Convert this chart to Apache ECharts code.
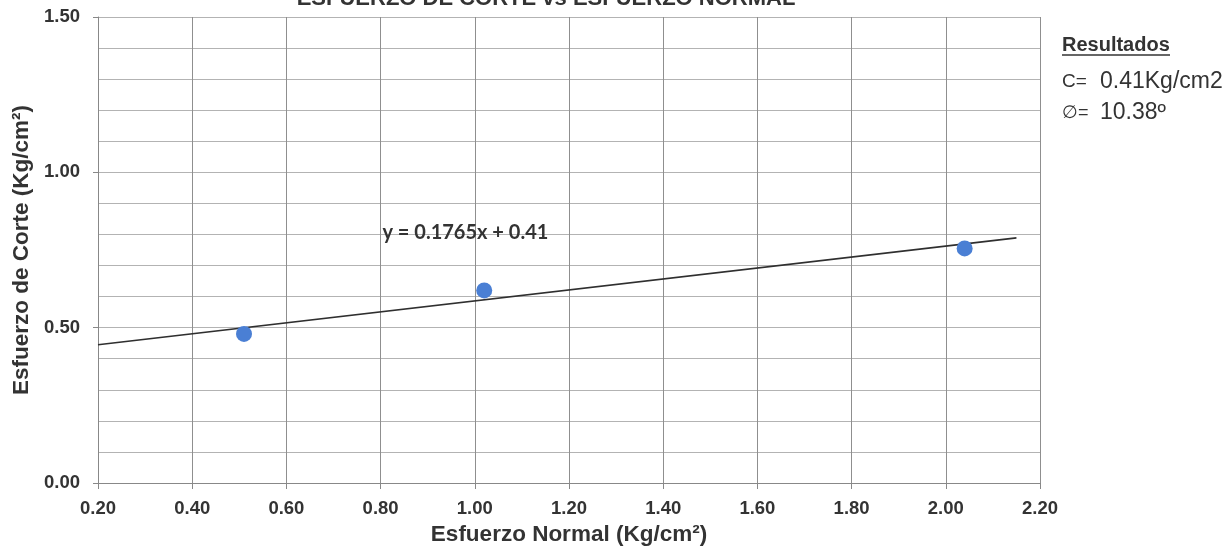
<!DOCTYPE html>
<html>
<head>
<meta charset="utf-8">
<script src="https://cdn.jsdelivr.net/npm/echarts@6/dist/echarts.min.js"></script>
<style>
html,body{margin:0;padding:0;background:#fff;}
#c{width:1231px;height:554px;}
</style>
</head>
<body>
<div id="c"></div>
<script>
const normalStress = [0.51, 1.02, 2.04];
const shearStress = [0.48, 0.62, 0.755];
const trendX = [0.2, 2.15];
const trendY = [0.445, 0.789];
const titleText = 'ESFUERZO DE CORTE vs ESFUERZO NORMAL';
const xName = 'Esfuerzo Normal (Kg/cm²)';
const yName = 'Esfuerzo de Corte (Kg/cm²)';
const equationText = 'y = 0.1765x + 0.41';
const equationAt = [0.98, 0.805];
const resultsHeader = 'Resultados';
const resultC = ['C=', '0.41Kg/cm2'];
const resultPhi = ['∅=', '10.38º'];

const chart = echarts.init(document.getElementById('c'));
const FONT = 'Liberation Sans, Arial, sans-serif';
const TXT = '#333';

chart.setOption({
  animation: false,
  backgroundColor: '#fff',
  grid: {left: 98, right: 191, top: 17, bottom: 71},
  xAxis: {
    type: 'value', min: 0.2, max: 2.2, interval: 0.2,
    name: xName, nameLocation: 'middle', nameGap: 33,
    nameTextStyle: {fontFamily: FONT, fontWeight: 'bold', fontSize: 22.5, color: TXT},
    axisLine: {show: true, lineStyle: {color: '#888', width: 1}},
    axisTick: {show: true, length: 6, lineStyle: {color: '#888'}},
    axisLabel: {fontFamily: FONT, fontWeight: 'bold', fontSize: 18.5, color: TXT, margin: 16,
      formatter: v => v.toFixed(2)},
    splitLine: {show: true, lineStyle: {color: '#8f8f8f', width: 1}}
  },
  yAxis: {
    type: 'value', min: 0, max: 1.5, interval: 0.5,
    name: yName, nameLocation: 'middle', nameGap: 65, nameRotate: 90,
    nameTextStyle: {fontFamily: FONT, fontWeight: 'bold', fontSize: 22.5, color: TXT},
    axisLine: {show: true, lineStyle: {color: '#888', width: 1}},
    axisTick: {show: true, length: 5, lineStyle: {color: '#888'}},
    minorTick: {show: false, splitNumber: 5},
    axisLabel: {fontFamily: FONT, fontWeight: 'bold', fontSize: 18.5, color: TXT, margin: 18,
      formatter: v => v.toFixed(2)},
    splitLine: {show: true, lineStyle: {color: '#b3b3b3', width: 1}},
    minorSplitLine: {show: true, lineStyle: {color: '#b3b3b3', width: 1}}
  },
  series: [
    {
      type: 'line',
      data: trendX.map((x, i) => [x, trendY[i]]),
      showSymbol: false, symbol: 'none',
      lineStyle: {color: '#2f2f2f', width: 1.6},
      z: 2
    },
    {
      type: 'scatter',
      data: normalStress.map((x, i) => [x, shearStress[i]]),
      symbol: 'circle', symbolSize: 16,
      itemStyle: {color: '#4a7fd4', opacity: 1},
      z: 3
    }
  ]
});

const eqPos = chart.convertToPixel({gridIndex: 0}, equationAt);

chart.setOption({
  graphic: [
    {type: 'text', x: 546, y: 10, style: {text: titleText, fontFamily: FONT, fontWeight: 'bold', fontSize: 22,
      fill: TXT, align: 'center', verticalAlign: 'bottom'}},
    {type: 'text', x: eqPos[0], y: eqPos[1], style: {text: equationText, fontFamily: 'Lato, sans-serif', fontWeight: 'bold', fontSize: 20,
      fill: '#333', align: 'center', verticalAlign: 'middle'}},
    {type: 'text', x: 1062, y: 45, style: {text: resultsHeader, fontFamily: FONT, fontWeight: 'bold', fontSize: 20,
      fill: TXT, align: 'left', verticalAlign: 'middle'}},
    {type: 'line', shape: {x1: 1062, y1: 55, x2: 1170, y2: 55}, style: {stroke: TXT, lineWidth: 1.5}},
    {type: 'text', x: 1062, y: 82, style: {
      text: '{a|' + resultC[0] + '}{b|' + resultC[1] + '}',
      rich: {a: {fontFamily: FONT, fontSize: 19, fill: TXT, width: 38},
             b: {fontFamily: FONT, fontSize: 23, fill: TXT}},
      align: 'left', verticalAlign: 'middle'}},
    {type: 'text', x: 1062, y: 113, style: {
      text: '{a|' + resultPhi[0] + '}{b|' + resultPhi[1] + '}',
      rich: {a: {fontFamily: FONT, fontSize: 18, fill: TXT, width: 38},
             b: {fontFamily: FONT, fontSize: 23, fill: TXT}},
      align: 'left', verticalAlign: 'middle'}}
  ]
});
</script>
</body>
</html>
